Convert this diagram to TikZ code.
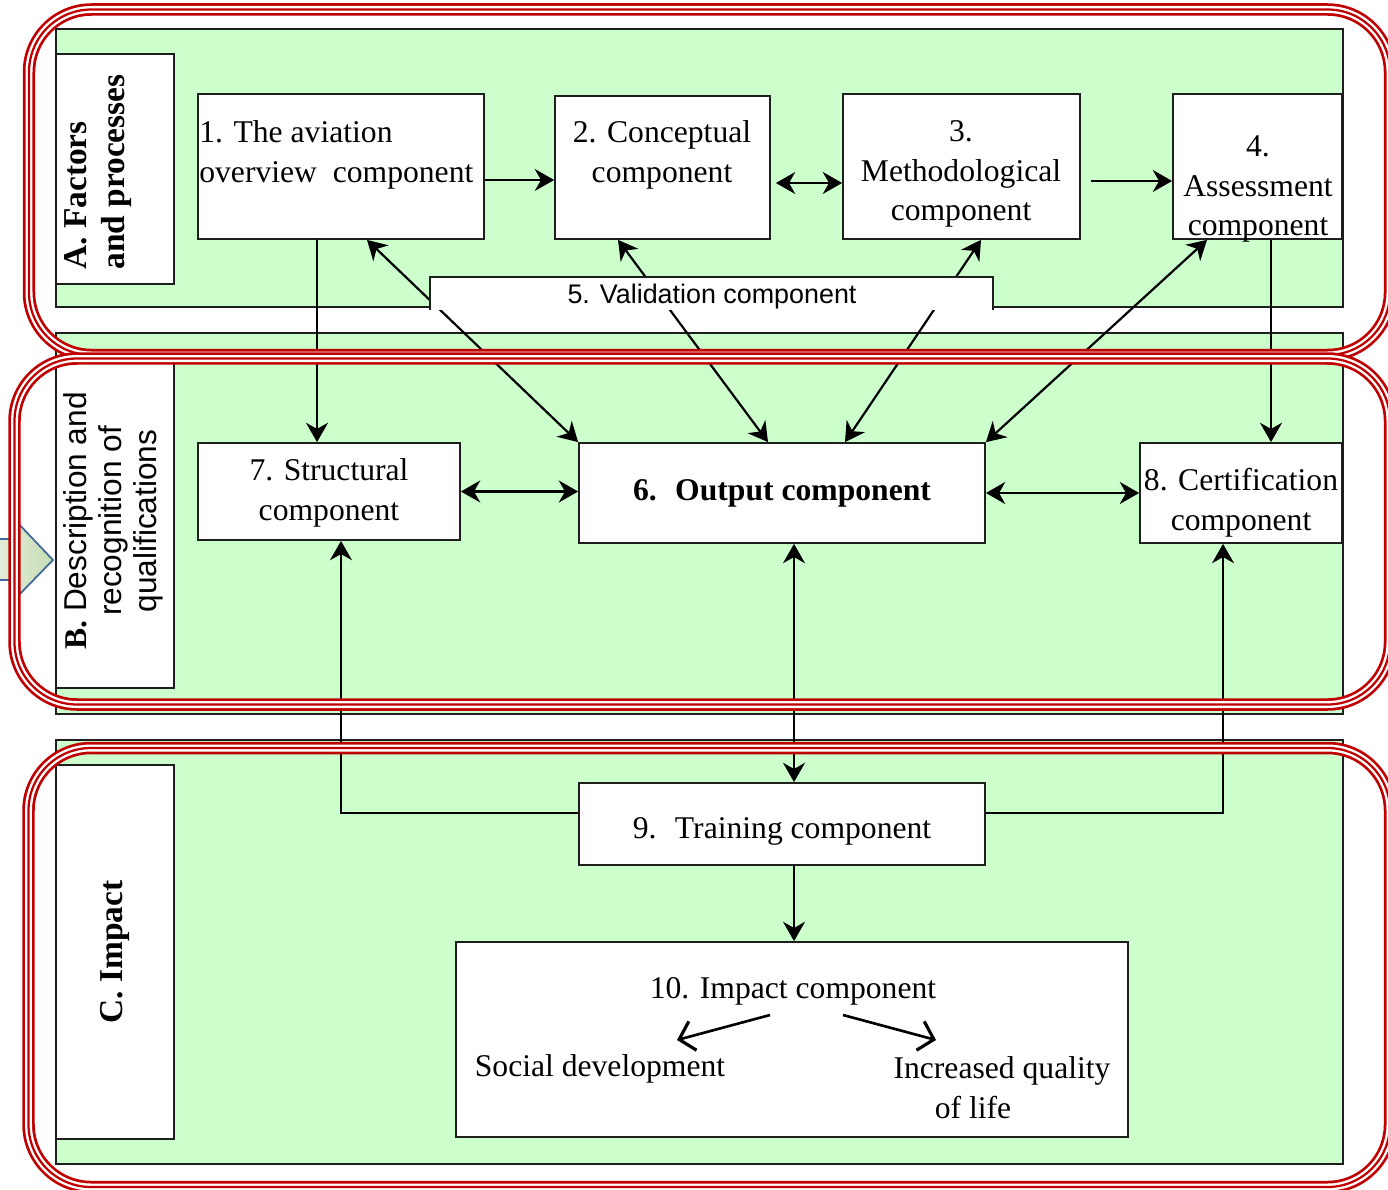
\documentclass[tikz,border=0pt]{standalone}
\usepackage{fontspec}
\setmainfont{Liberation Serif}
\setsansfont{Liberation Sans}
\usetikzlibrary{arrows.meta,calc}
\definecolor{panelgreen}{HTML}{CCFFCC}
\definecolor{framered}{HTML}{C00000}
\definecolor{arrowblue}{HTML}{41669E}
\definecolor{arrowfillA}{HTML}{E8F1DF}
\definecolor{arrowfillB}{HTML}{C6DCB4}
\definecolor{edge}{HTML}{1E1E1E}
\begin{document}
\begin{tikzpicture}[x=0.02cm,y=-0.02cm,
  sz/.style 2 args={minimum width=#1*0.02cm,minimum height=#2*0.02cm},
  panel/.style={draw=edge,line width=1pt,fill=panelgreen,inner sep=0pt,anchor=north west},
  labelbox/.style={draw=edge,line width=1pt,fill=white,inner sep=0pt,anchor=north west},
  box/.style={draw=edge,line width=1pt,fill=white,inner sep=0pt},
  serif/.style={font=\fontsize{18}{22.7}\selectfont,align=center,inner sep=0pt},
  conn/.style={line width=1.25pt,draw=black},
  arr/.style={conn,-{Stealth[length=11pt,width=12.5pt,inset=3.5pt]}},
  arrtwo/.style={conn,{Stealth[length=11pt,width=12.5pt,inset=3.5pt]}-{Stealth[length=11pt,width=12.5pt,inset=3.5pt]}},
  barb/.style={line width=1.5pt,draw=black,-{Straight Barb[length=8pt,width=17pt,line width=1.8pt]}},
  tframe/.style={draw=framered,line width=0.25cm,rounded corners=1.25cm,
    postaction={draw=white,line width=0.14cm},
    postaction={draw=framered,line width=0.045cm}}
]
\useasboundingbox (0,0) rectangle (1388,1189);

% side arrow
\draw[arrowblue,line width=1pt,left color=arrowfillA,right color=arrowfillB]
  (-10,539) -- (15,539) -- (15,520) -- (53,560) -- (15,599) -- (15,580) -- (-10,580) -- cycle;

% panels
\node[panel,sz={1287}{278}] (pA) at (55,28) {};
\node[panel,sz={1287}{381}] (pB) at (55,332) {};
\node[panel,sz={1287}{424}] (pC) at (55,739) {};

% label boxes
\node[labelbox,sz={118}{230}] (lA) at (55,53) {};
\node[labelbox,sz={118}{325}] (lB) at (55,362) {};
\node[labelbox,sz={118}{374}] (lC) at (55,764) {};
\node[rotate=90,align=left,inner sep=0pt,font=\fontsize{19}{21.5}\selectfont\bfseries] (tA) at (98,172) {A. Factors\\and processes};
\node[rotate=90,align=center,inner sep=0pt,font=\sffamily\fontsize{18}{19.9}\selectfont] (tB) at (113,521) {{\rmfamily\bfseries B.} Description and\\recognition of\\qualifications};
\node[rotate=90,inner sep=0pt,font=\fontsize{19}{22}\selectfont\bfseries] (tC) at (115,952) {C. Impact};

% component boxes
\node[box,sz={286}{145}] (n1) at (341,166.5) {};
\node[box,sz={215}{143}] (n2) at (662.5,167.5) {};
\node[box,sz={237}{145}] (n3) at (961.5,166.5) {};
\node[box,sz={169}{145}] (n4) at (1257.5,166.5) {};
\node[box,sz={262}{97}] (n7) at (329,491.5) {};
\node[box,sz={406}{100}] (n6) at (782,493) {};
\node[box,sz={202}{100}] (n8) at (1241,493) {};
\node[box,sz={406}{82}] (n9) at (782,824) {};
\node[box,sz={672}{195}] (n10) at (792,1039.5) {};

% texts
\node[serif,align=left,anchor=west] (t1) at (199,155) {1. The aviation\\overview~ component};
\node[serif] (t2) at (662,155) {2. Conceptual\\component};
\node[serif] (t3) at (961,174) {3.\\Methodological\\component};
\node[serif] (t4) at (1258,189) {4.\\Assessment\\component};
\node[serif] (t7) at (329,493) {7. Structural\\component};
\node[serif,font=\fontsize{18}{22.7}\selectfont\bfseries] (t6) at (782,493) {6.~ Output component};
\node[serif] (t8) at (1241,503) {8. Certification\\component};
\node[serif] (t9) at (782,831) {9.~ Training component};
\node[serif] (t10) at (793,991) {10. Impact component};
\node[serif] (tsoc) at (600,1069) {Social development};
\node[serif] (tinc) at (1002,1088) {Increased quality\\of life\hspace*{1.16cm}};

% connectors
\draw[arr] ([yshift=-0.27cm]n1.east) -- ([yshift=-0.27cm]n1.east -| n2.west);
\draw[arrtwo] ([xshift=0.1cm,yshift=-0.31cm]n2.east) -- ([yshift=-0.31cm]n2.east -| n3.west);
\draw[arr] ([xshift=0.2cm,yshift=-0.29cm]n3.east) -- ([yshift=-0.29cm]n3.east -| n4.west);
\draw[arr] ([xshift=-0.48cm]n1.south) -- ([xshift=-0.48cm]n1.south |- n7.north);
\draw[arr] ([xshift=0.27cm]n4.south) -- ([xshift=0.27cm]n4.south |- n8.north);
\draw[arrtwo] ([xshift=0.52cm]n1.south) -- (n6.north west);
\draw[arrtwo] ([xshift=-0.89cm]n2.south) -- ([xshift=-0.28cm]n6.north);
\draw[arrtwo] ([xshift=0.39cm]n3.south) -- ([xshift=1.26cm]n6.north);
\draw[arrtwo] ([xshift=-1.01cm]n4.south) -- (n6.north east);
\draw[arrtwo] (n7.east) -- (n7.east -| n6.west);
\draw[arrtwo] (n6.east) -- (n8.west);
\draw[arrtwo] ([xshift=0.24cm]n6.south) -- ([xshift=0.24cm]n6.south |- n9.north);
\draw[arr] ([yshift=0.22cm]n9.west) -| ([xshift=0.24cm]n7.south);
\draw[arr] ([yshift=0.22cm]n9.east) -| ([xshift=-0.36cm]n8.south);
\draw[arr] ([xshift=0.24cm]n9.south) -- ([xshift=0.24cm]n9.south |- n10.north);
\draw[barb] ([xshift=-0.46cm,yshift=-0.48cm]t10.center) -- ([xshift=1.54cm,yshift=0.58cm]tsoc.center);
\draw[barb] ([xshift=1.0cm,yshift=-0.48cm]t10.center) -- ([xshift=-1.32cm,yshift=0.96cm]tinc.center);

% validation component
\node[fill=white,inner sep=0pt,sz={563}{33}] (n5) at (711.5,293.5) {};
\draw[line width=1pt,draw=edge] (n5.south west) -- (n5.north west) -- (n5.north east) -- (n5.south east);
\node[inner sep=0pt,font=\sffamily\fontsize{15.3}{18}\selectfont] (t5) at (712,297) {5. Validation component};

% red frames
\draw[tframe] (29,9.5) rectangle (1390,355);
\draw[tframe] (14.5,358.5) rectangle (1390,704.5);
\draw[tframe] (28.5,748) rectangle (1390,1187);
\end{tikzpicture}
\end{document}
